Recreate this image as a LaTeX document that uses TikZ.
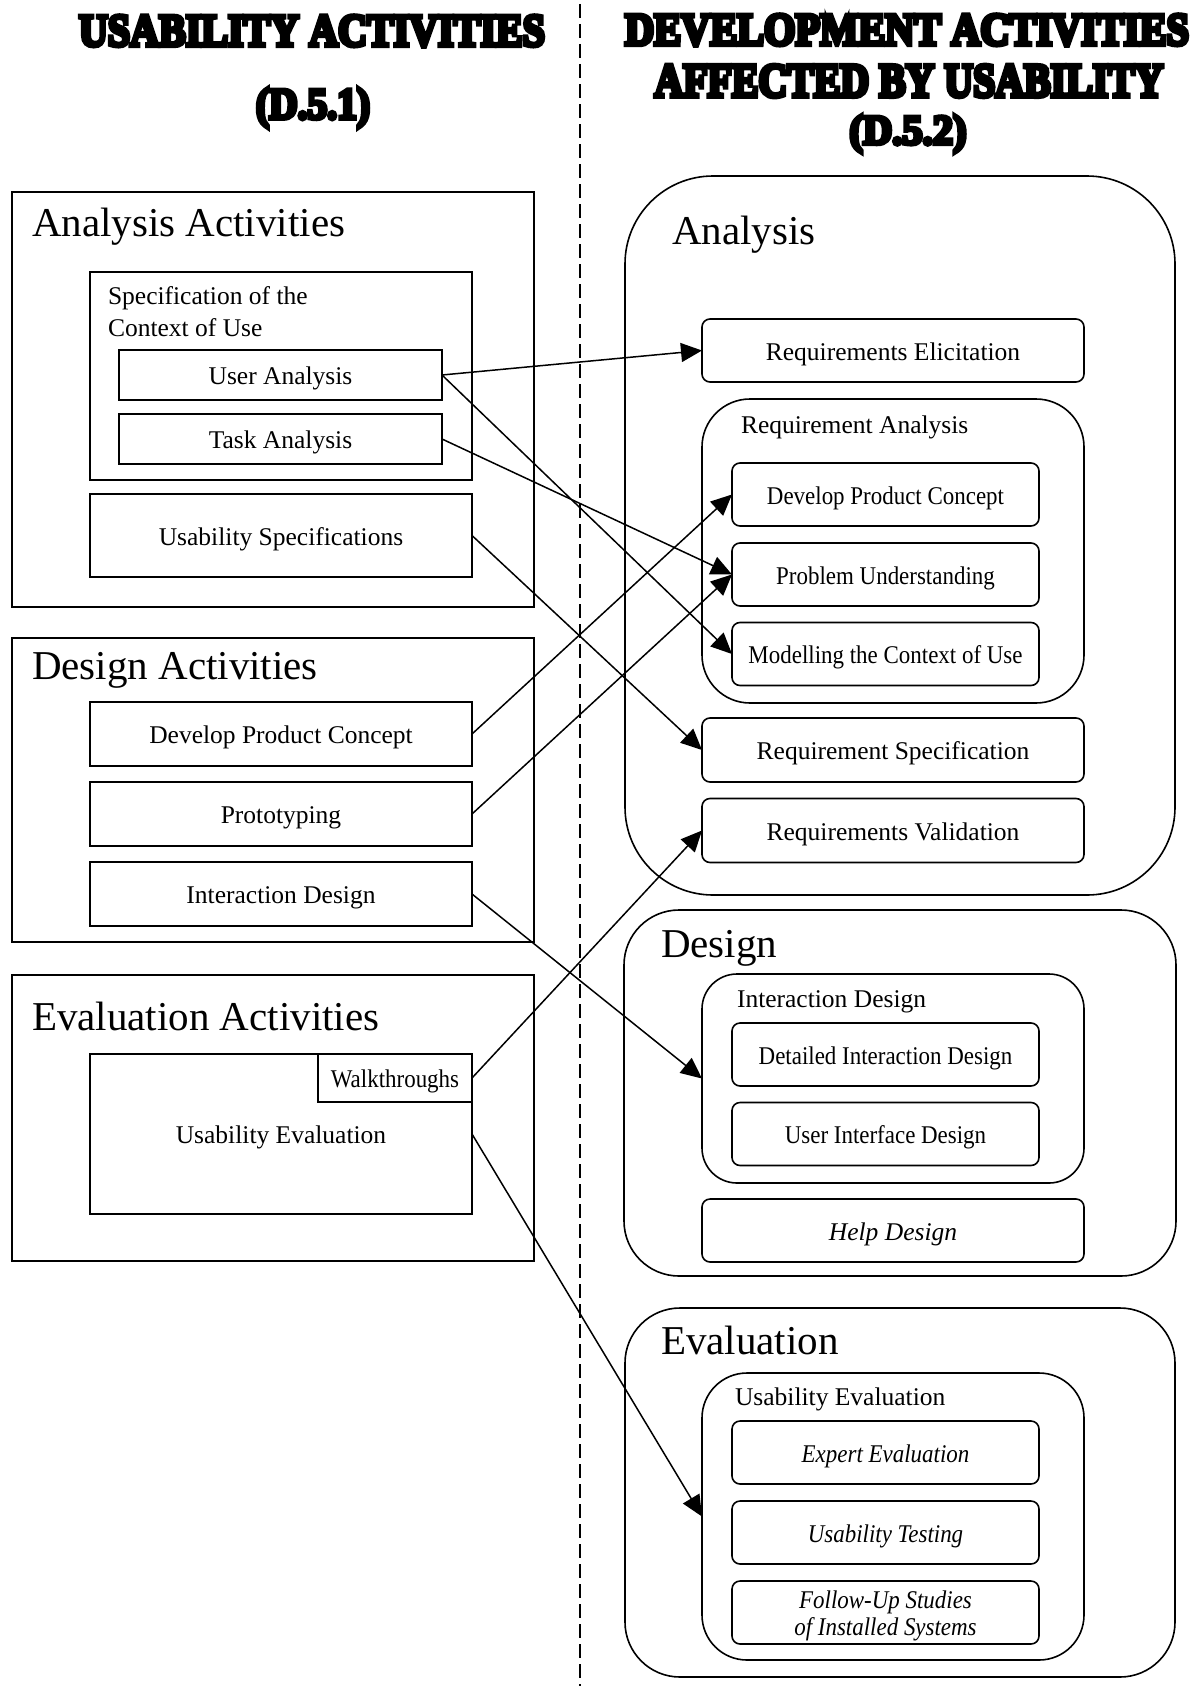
\documentclass[tikz,border=0pt]{standalone}
\usepackage{fontspec}
\usepackage{graphicx}
\setmainfont{Liberation Serif}
\newfontfamily\condfont{Liberation Serif}[FakeStretch=0.9]
\newfontfamily\titlefont{Liberation Serif Bold}[FakeBold=10]
\usetikzlibrary{arrows.meta}
\newcommand\normtxt{\fontsize{25.5}{30}\selectfont}
\newcommand\condtxt{\condfont\fontsize{25.5}{28}\selectfont}
\newcommand\condittxt{\condfont\itshape\fontsize{25.5}{27}\selectfont}
\newcommand\headtxt{\fontsize{41}{49}\selectfont}
\begin{document}
\begin{tikzpicture}[x=1pt,y=-1pt,
  every node/.style={inner sep=0pt, outer sep=0pt},
  ttl/.style={anchor=center},
  hd/.style={anchor=base west, font=\headtxt},
  sub/.style={anchor=base west, font=\normtxt},
  lbox/.style={draw, line width=1.6pt, rectangle, font=\normtxt, text height=19pt, text depth=0pt},
  rbox/.style={draw, line width=1.6pt, rounded corners=8pt, font=\normtxt, text height=19pt, text depth=0pt},
  ibox/.style={rbox, minimum width=307pt, minimum height=63pt, font=\condtxt},
  bigbox/.style={draw, line width=1.6pt},
  arr/.style={line width=1.5pt, -{Triangle[length=21pt,width=19pt]}},
  divider/.style={line width=1.4pt, dash pattern=on 14pt off 6pt}
]
\useasboundingbox (0,0) rectangle (1201,1686);

% ---------- titles ----------
\node[ttl] (t1) at (312,31) {\resizebox*{466pt}{31pt}{\titlefont USABILITY ACTIVITIES}};
\node[ttl] (t2) at (313,108) {\resizebox*{114pt}{40pt}{\titlefont (D.5.1)}};
\node[ttl] (t3) at (907,30) {\resizebox*{564pt}{31pt}{\titlefont DEVELOPMENT ACTIVITIES}};
\node[ttl] (t4) at (909,81) {\resizebox*{509pt}{32pt}{\titlefont AFFECTED BY USABILITY}};
\node[ttl] (t5) at (908,134) {\resizebox*{117pt}{38pt}{\titlefont (D.5.2)}};

% ---------- divider ----------
\coordinate (dtop) at (580,4);
\coordinate (dbot) at (580,1686);
\draw[divider] (dtop) -- (dbot);

% ---------- left: analysis activities ----------
\node[lbox, minimum width=522pt, minimum height=415pt] (aa) at (273,399.5) {};
\node[hd] (aat) at (32,236) {Analysis Activities};
\node[lbox, minimum width=382pt, minimum height=208pt] (sc) at (281,376) {};
\node[sub] (sc1) at (108,304) {Specification of the};
\node[sub] (sc2) at (108,336.5) {Context of Use};
\node[lbox, minimum width=323pt, minimum height=50pt] (ua) at (280.5,375) {User Analysis};
\node[lbox, minimum width=323pt, minimum height=50pt] (ta) at (280.5,439) {Task Analysis};
\node[lbox, minimum width=382pt, minimum height=83pt] (us) at (281,535.5) {Usability Specifications};

% ---------- left: design activities ----------
\node[lbox, minimum width=522pt, minimum height=304pt] (da) at (273,790) {};
\node[hd] (dat) at (32,679) {Design Activities};
\node[lbox, minimum width=382pt, minimum height=64pt] (dpcl) at (281,734) {Develop Product Concept};
\node[lbox, minimum width=382pt, minimum height=64pt] (pr) at (281,814) {Prototyping};
\node[lbox, minimum width=382pt, minimum height=64pt] (idl) at (281,894) {Interaction Design};

% ---------- left: evaluation activities ----------
\node[lbox, minimum width=522pt, minimum height=286pt] (ea) at (273,1118) {};
\node[hd] (eat) at (32,1030) {Evaluation Activities};
\node[lbox, minimum width=382pt, minimum height=160pt] (uel) at (281,1134) {Usability Evaluation};
\node[lbox, minimum width=154pt, minimum height=48pt, font=\condtxt] (wt) at (395,1078) {Walkthroughs};

% ---------- right: analysis ----------
\node[bigbox, rounded corners=88pt, minimum width=550pt, minimum height=719pt] (an) at (900,535.5) {};
\node[hd] (ant) at (672,244) {Analysis};
\node[rbox, minimum width=382pt, minimum height=63pt] (re) at (893,350.5) {Requirements Elicitation};
\node[bigbox, rounded corners=48pt, minimum width=382pt, minimum height=304pt] (ra) at (893,551) {};
\node[sub] (rat) at (741,433) {Requirement Analysis};
\node[ibox] (dpcr) at (885.5,494.5) {Develop Product Concept};
\node[ibox] (pu) at (885.5,574.5) {Problem Understanding};
\node[ibox] (mc) at (885.5,654) {Modelling the Context of Use};
\node[rbox, minimum width=382pt, minimum height=64pt] (rs) at (893,750) {Requirement Specification};
\node[rbox, minimum width=382pt, minimum height=64pt] (rv) at (893,830.5) {Requirements Validation};

% ---------- right: design ----------
\node[bigbox, rounded corners=55pt, minimum width=552pt, minimum height=366pt] (de) at (900,1093) {};
\node[hd] (det) at (661,957) {Design};
\node[bigbox, rounded corners=35pt, minimum width=382pt, minimum height=209pt] (idr) at (893,1078.5) {};
\node[sub] (idrt) at (737,1007) {Interaction Design};
\node[ibox] (did) at (885.5,1054.5) {Detailed Interaction Design};
\node[ibox] (uid) at (885.5,1134) {User Interface Design};
\node[rbox, minimum width=382pt, minimum height=63pt, font=\normtxt\itshape] (hdn) at (893,1230.5) {Help Design};

% ---------- right: evaluation ----------
\node[bigbox, rounded corners=55pt, minimum width=550pt, minimum height=369pt] (ev) at (900,1492.5) {};
\node[hd] (evt) at (661,1354) {Evaluation};
\node[bigbox, rounded corners=45pt, minimum width=382pt, minimum height=287pt] (uer) at (893,1516.5) {};
\node[sub] (uert) at (735,1405) {Usability Evaluation};
\node[ibox, font=\condittxt] (ee) at (885.5,1452.5) {Expert Evaluation};
\node[ibox, font=\condittxt] (ut) at (885.5,1532.5) {Usability Testing};
\node[ibox] (fu) at (885.5,1612.5) {};
\node[anchor=base, font=\condittxt] (fu1) at (885.5,1608) {Follow-Up Studies};
\node[anchor=base, font=\condittxt] (fu2) at (885.5,1635) {of Installed Systems};

% ---------- connectors ----------
\draw[arr] (ua.east) -- (re.west);
\draw[arr] (ua.east) -- (mc.west);
\draw[arr] (ta.east) -- (pu.west);
\draw[arr] (us.east) -- (rs.west);
\draw[arr] (dpcl.east) -- (dpcr.west);
\draw[arr] (pr.east) -- (pu.west);
\draw[arr] (idl.east) -- (idr.west);
\draw[arr] (wt.east) -- (rv.west);
\draw[arr] (uel.east) -- (uer.west);
\end{tikzpicture}
\end{document}
